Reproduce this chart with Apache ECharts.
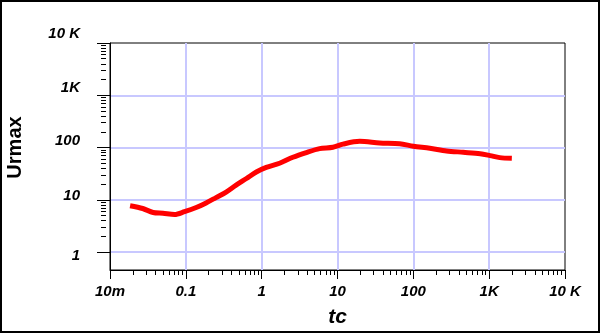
<!DOCTYPE html>
<html>
<head>
<meta charset="utf-8">
<script src="https://cdn.jsdelivr.net/npm/echarts@6/dist/echarts.min.js"></script>
<style>
  html, body { margin: 0; padding: 0; background: #fff; }
  #wrap { position: relative; width: 600px; height: 333px; }
  #chart { width: 600px; height: 333px; }
  #frame { position: absolute; left: 0; top: 0; width: 600px; height: 333px; box-sizing: border-box; border: 2px solid #000; pointer-events: none; }
</style>
</head>
<body>
<div id="wrap">
  <div id="chart"></div>
  <div id="frame"></div>
</div>
<script>
// curve: tc -> Urmax
var tcValues = [0.0184, 0.027, 0.037, 0.05, 0.071, 0.096, 0.137, 0.185, 0.25, 0.34, 0.46, 0.63, 0.85, 1.15, 1.72, 2.58, 3.88, 5.8, 8.7, 11.8, 19.6, 36, 66, 100, 165, 274, 455, 760, 1030, 1380, 1990];
var urmaxValues = [7.7, 6.8, 5.7, 5.5, 5.2, 5.9, 7.1, 8.7, 11, 14, 19, 25.5, 34, 41.6, 50, 65, 80, 95, 101, 116, 131, 122, 118, 106, 97, 86, 81, 76, 70, 64, 62];

var xTickValues = [0.01, 0.1, 1, 10, 100, 1000, 10000];
var xTickLabels = ["10m", "0.1", "1", "10", "100", "1K", "10 K"];
var yTickValues = [1, 10, 100, 1000, 10000];
var yTickLabels = ["1", "10", "100", "1K", "10 K"];

// minor ticks 2..9 in every decade
function minorTicks(from, to) {
  var out = [];
  for (var d = from; d < to; d *= 10) {
    for (var k = 2; k <= 9; k++) out.push(+(d * k).toPrecision(6));
  }
  return out;
}

function findIndex(values, v) {
  for (var i = 0; i < values.length; i++) {
    if (Math.abs(Math.log10(v) - Math.log10(values[i])) < 1e-6) return i;
  }
  return -1;
}

var labelFont = {
  color: "#000",
  fontSize: 15,
  fontWeight: "bold",
  fontStyle: "italic",
  fontFamily: "Liberation Sans, Arial, sans-serif",
};

// the y labels in the original sit a little off their ticks
var yLabelRich = {
  y0: Object.assign({ padding: [8, 0, 0, 0] }, labelFont),
  y1: Object.assign({ padding: [0, 0, 8, 0] }, labelFont),
  y2: Object.assign({ padding: [0, 0, 14, 0] }, labelFont),
  y3: Object.assign({ padding: [0, 0, 14, 0] }, labelFont),
  y4: Object.assign({ padding: [0, 0, 18, 0] }, labelFont),
};

var gridColor = "#c8c8ff";

var myChart = echarts.init(document.getElementById("chart"));
var option = {
  backgroundColor: "#fff",
  animation: false,
  grid: [
    { left: 110, top: 43, width: 455, height: 227, outerBoundsMode: "none", containLabel: false, show: true, borderColor: "#000", borderWidth: 1, backgroundColor: "transparent" },
    { left: 110, top: 43, width: 455, height: 209, outerBoundsMode: "none", containLabel: false },
  ],
  xAxis: [
    {
      gridIndex: 0,
      type: "log",
      logBase: 10,
      min: 0.01,
      max: 10000,
      position: "bottom",
      name: "tc",
      nameLocation: "middle",
      nameGap: 37,
      nameTextStyle: { color: "#000", fontSize: 21, fontWeight: "bold", fontStyle: "italic", fontFamily: "Liberation Sans, Arial, sans-serif" },
      axisLine: { lineStyle: { color: "#000", width: 1 } },
      axisTick: { show: true, length: 9, lineStyle: { color: "#000" } },
      axisLabel: Object.assign({
        margin: 14,
        formatter: function (v) {
          var i = findIndex(xTickValues, v);
          return i < 0 ? "" : xTickLabels[i];
        },
      }, labelFont),
      splitLine: { show: true, showMinLine: false, showMaxLine: false, lineStyle: { color: gridColor, width: 2 } },
    },
    {
      gridIndex: 0,
      type: "log",
      min: 0.01,
      max: 10000,
      position: "bottom",
      axisLine: { show: false },
      axisTick: { show: true, length: 5, customValues: minorTicks(0.01, 10000), lineStyle: { color: "#000" } },
      axisLabel: { show: false },
      splitLine: { show: false },
    },
    {
      gridIndex: 1,
      type: "log",
      min: 0.01,
      max: 10000,
      position: "bottom",
      show: false,
    },
  ],
  yAxis: [
    {
      gridIndex: 0,
      type: "log",
      min: 0.45,
      max: 10000,
      position: "left",
      axisLine: { show: true, lineStyle: { color: "#000", width: 1 } },
      axisTick: { show: false },
      axisLabel: { show: false },
      splitLine: { show: false },
    },
    {
      gridIndex: 1,
      type: "log",
      min: 1,
      max: 10000,
      position: "left",
      name: "Urmax",
      nameLocation: "middle",
      nameRotate: 90,
      nameGap: 85,
      nameTextStyle: { color: "#000", fontSize: 20, fontWeight: "bold", fontFamily: "Liberation Sans, Arial, sans-serif" },
      axisLine: { show: false },
      axisTick: { show: true, length: 13, lineStyle: { color: "#000" } },
      axisLabel: Object.assign({
        margin: 30,
        rich: yLabelRich,
        formatter: function (v) {
          var i = findIndex(yTickValues, v);
          return i < 0 ? "" : "{y" + i + "|" + yTickLabels[i] + "}";
        },
      }, labelFont),
      splitLine: { show: true, showMaxLine: false, lineStyle: { color: gridColor, width: 2 } },
    },
    {
      gridIndex: 1,
      type: "log",
      min: 1,
      max: 10000,
      position: "left",
      offset: 4,
      axisLine: { show: false },
      axisTick: { show: true, length: 5, customValues: minorTicks(1, 10000), lineStyle: { color: "#000" } },
      axisLabel: { show: false },
      splitLine: { show: false },
    },
  ],
  series: [
    {
      type: "line",
      xAxisIndex: 2,
      yAxisIndex: 1,
      showSymbol: false,
      smooth: 0.3,
      lineStyle: { color: "#ff0000", width: 5 },
      data: tcValues.map(function (t, i) { return [t, urmaxValues[i]]; }),
    },
  ],
};
myChart.setOption(option);
</script>
</body>
</html>
